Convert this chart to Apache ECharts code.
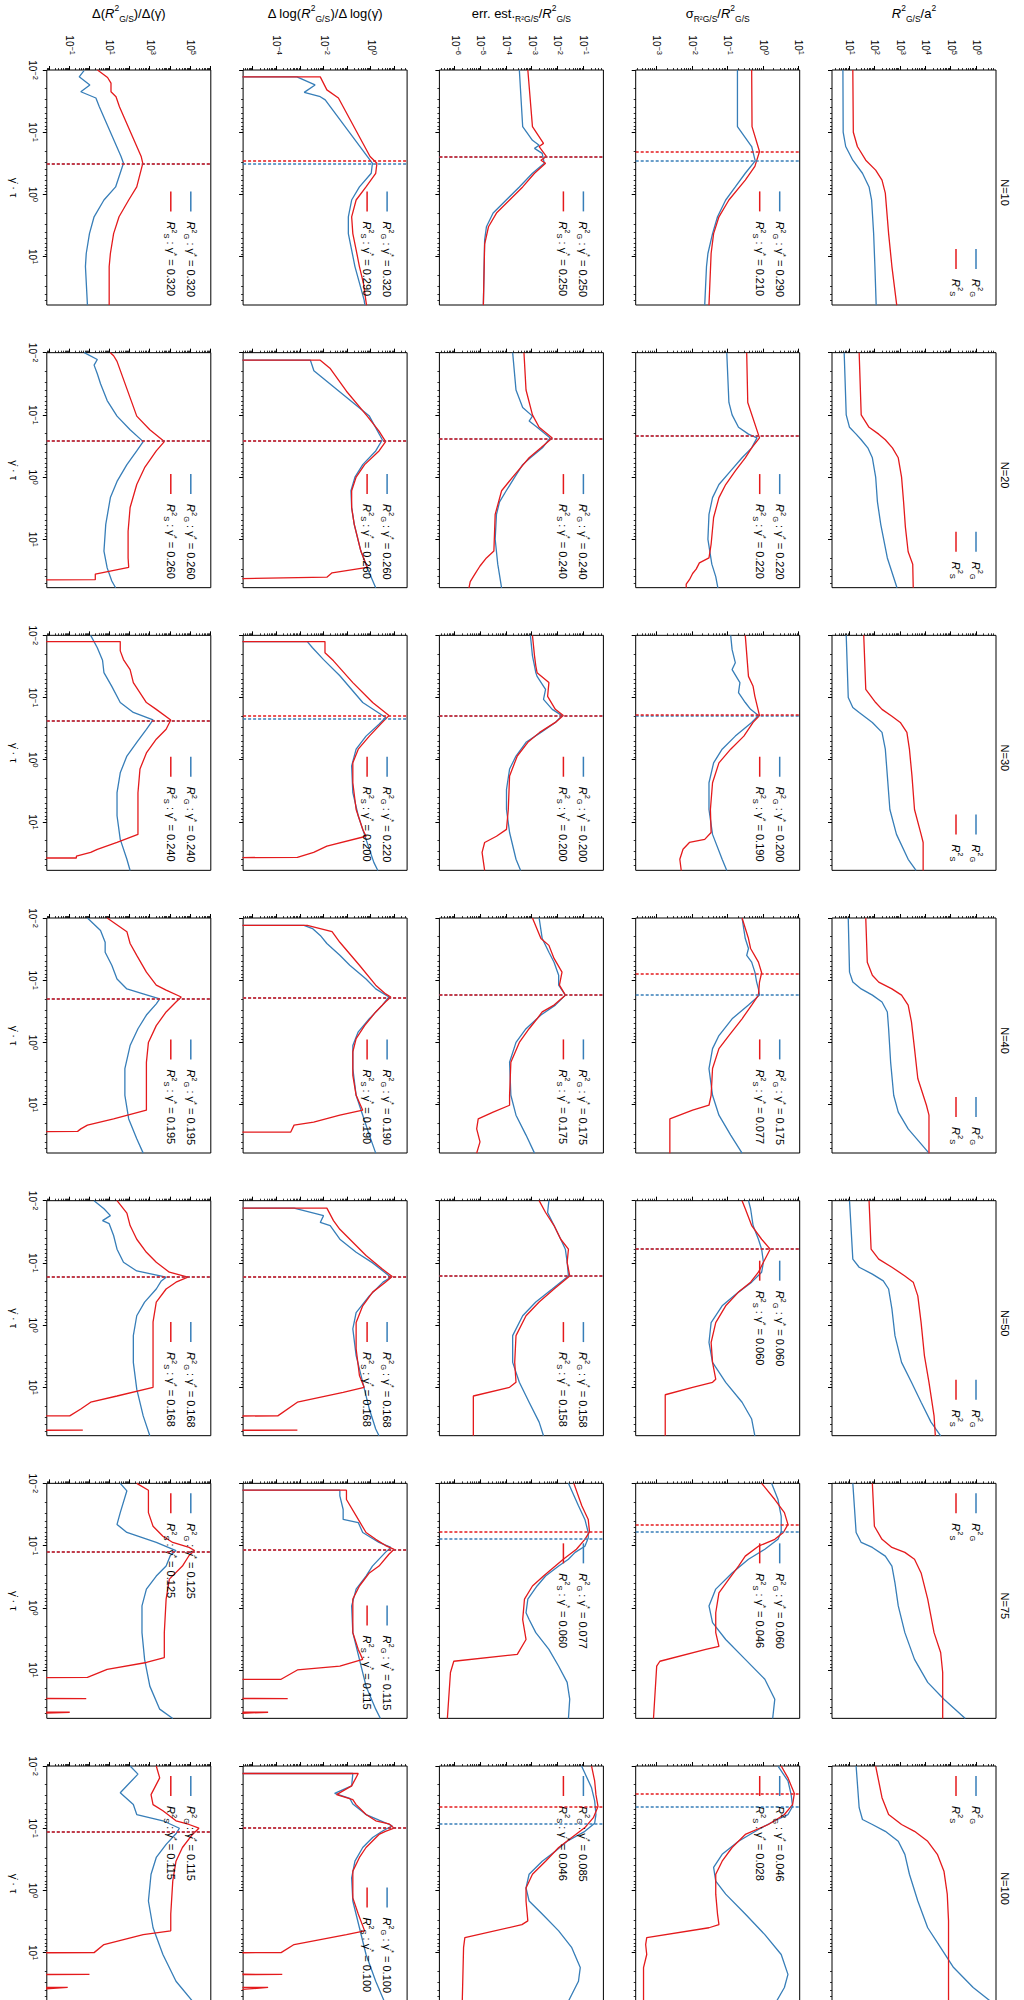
<!DOCTYPE html>
<html>
<head>
<meta charset="utf-8">
<script src="https://cdn.jsdelivr.net/npm/echarts/dist/echarts.min.js"></script>
<style>
html,body{margin:0;padding:0;width:1024px;height:2000px;overflow:hidden;background:#fff;}
#chart{position:absolute;left:0;top:0;width:2000px;height:1024px;transform-origin:0 0;transform:translate(1024px,0) rotate(90deg);}
</style>
</head>
<body>
<div id="chart"></div>
<script>
// ---------------- DATA (all values as log10) ----------------
// Each curve: [log10(gamma_dot*tau), log10(value)]; -12 = below the axis (dropped to zero)
const nValues = [10, 20, 30, 40, 50, 75, 100];
const xTickExps = [-2, -1, 0, 1];
const rowTickLabelExps = [[1,2,3,4,5,6], [-3,-2,-1,0,1], [-6,-5,-4,-3,-2,-1], [-4,-2,0], [-1,1,3,5]];
const rowMinLog = [0.31, -3.59, -6.61, -5.43, -2.14];
const rowMaxLog = [6.77, 1.02, -0.23, 1.52, 6.01];
const xMinLog = -2, xMaxLog = 1.778;

// gamma* per N for rows 2..5 (sigma, err est, dlog, diff)
const gammaStarG = [[0.290,0.250,0.320,0.320],[0.220,0.240,0.260,0.260],[0.200,0.200,0.220,0.240],[0.175,0.175,0.190,0.195],[0.060,0.158,0.168,0.168],[0.060,0.077,0.115,0.125],[0.046,0.085,0.100,0.115]];
const gammaStarS = [[0.210,0.250,0.290,0.320],[0.220,0.240,0.260,0.260],[0.190,0.200,0.200,0.240],[0.077,0.175,0.190,0.195],[0.060,0.158,0.168,0.168],[0.046,0.060,0.115,0.125],[0.028,0.046,0.100,0.115]];

// ---- N = 10 ----
const n10_r1_G = [[-2,0.74],[-1,0.75],[-0.77,0.85],[-0.55,1.13],[-0.34,1.51],[-0.12,1.77],[0.09,1.87],[0.63,1.95],[1.16,2.0],[1.78,2.05]];
const n10_r1_S = [[-2,1.13],[-1,1.15],[-0.77,1.31],[-0.55,1.64],[-0.39,2.03],[-0.23,2.28],[-0.02,2.41],[0.63,2.54],[1.16,2.67],[1.78,2.86]];
const n10_r2_G = [[-2,-0.73],[-1.09,-0.73],[-0.77,-0.33],[-0.54,-0.23],[-0.34,-0.51],[-0.12,-0.79],[0.09,-1.06],[0.36,-1.29],[0.63,-1.43],[0.95,-1.56],[1.16,-1.6],[1.78,-1.65]];
const n10_r2_S = [[-2,-0.33],[-1.09,-0.32],[-0.69,-0.11],[-0.45,-0.24],[-0.23,-0.51],[0.09,-0.97],[0.36,-1.25],[0.63,-1.4],[0.95,-1.47],[1.78,-1.53]];
const n10_r3_G = [[-2,-3.5],[-1.09,-3.37],[-0.87,-2.99],[-0.79,-2.73],[-0.74,-2.91],[-0.66,-2.61],[-0.5,-2.53],[-0.34,-2.99],[-0.12,-3.5],[0.09,-4.01],[0.3,-4.52],[0.52,-4.78],[0.73,-4.85],[1.78,-4.9]];
const n10_r3_S = [[-2,-3.17],[-1.09,-2.99],[-0.82,-2.56],[-0.77,-2.73],[-0.61,-2.45],[-0.55,-2.66],[-0.5,-2.48],[-0.34,-2.91],[-0.12,-3.37],[0.09,-3.88],[0.3,-4.39],[0.52,-4.7],[0.8,-4.85],[1.78,-4.9]];
const n10_r4_G = [[-1.89,-12],[-1.89,-3.15],[-1.76,-2.38],[-1.64,-2.84],[-1.57,-2.16],[-1.52,-1.95],[-0.55,-0.05],[-0.5,0.05],[-0.34,0.0],[-0.12,-0.5],[0.09,-0.83],[0.36,-0.97],[0.63,-0.97],[1.16,-0.69],[1.7,-0.3],[1.78,-0.27]];
const n10_r4_S = [[-1.89,-12],[-1.89,-2.16],[-1.68,-1.88],[-1.55,-1.39],[-0.61,-0.05],[-0.5,0.24],[-0.34,0.19],[-0.12,-0.22],[0.09,-0.64],[0.36,-0.83],[0.63,-0.78],[0.89,-0.64],[1.16,-0.5],[1.43,-0.33],[1.78,-0.2]];
const n10_r5_G = [[-1.99,-0.29],[-1.89,-0.53],[-1.76,0.0],[-1.65,-0.45],[-1.55,0.3],[-1.41,0.47],[-0.61,1.55],[-0.5,1.67],[-0.12,1.28],[0.09,0.7],[0.36,0.21],[0.63,-0.02],[0.95,-0.18],[1.16,-0.22],[1.78,-0.12]];
const n10_r5_S = [[-2,0.38],[-1.88,0.88],[-1.79,1.05],[-1.65,1.05],[-1.57,1.3],[-1.41,1.47],[-0.61,2.55],[-0.5,2.63],[-0.12,2.33],[0.09,1.93],[0.36,1.45],[0.63,1.18],[0.95,1.02],[1.16,0.96],[1.78,0.96]];

// ---- N = 20 ----
const n20_r1_G = [[-2,0.79],[-1,0.87],[-0.8,1.0],[-0.69,1.26],[-0.6,1.46],[-0.47,1.72],[-0.31,1.9],[0,2.03],[0.4,2.1],[0.76,2.23],[1.3,2.49],[1.78,2.87]];
const n20_r1_S = [[-2,1.38],[-1,1.46],[-0.8,1.77],[-0.69,2.15],[-0.6,2.41],[-0.47,2.69],[-0.31,2.92],[0,3.05],[0.4,3.13],[0.8,3.2],[1.2,3.31],[1.4,3.49],[1.78,3.51]];
const n20_r2_G = [[-2,-1.03],[-1.2,-0.97],[-1,-0.88],[-0.8,-0.7],[-0.69,-0.42],[-0.63,-0.18],[-0.47,-0.33],[-0.31,-0.6],[-0.1,-0.92],[0.12,-1.25],[0.33,-1.43],[0.6,-1.53],[1.0,-1.56],[1.4,-1.45],[1.6,-1.34],[1.78,-1.28]];
const n20_r2_S = [[-2,-0.47],[-1.2,-0.44],[-0.63,-0.11],[-0.47,-0.33],[-0.31,-0.51],[-0.1,-0.79],[0.12,-1.06],[0.33,-1.25],[0.65,-1.4],[1.08,-1.47],[1.3,-1.53],[1.38,-1.8],[1.48,-1.89],[1.55,-1.99],[1.65,-2.08],[1.72,-2.17],[1.78,-2.17]];
const n20_r3_G = [[-2,-3.76],[-1.4,-3.63],[-1.12,-3.37],[-0.98,-2.99],[-0.9,-3.12],[-0.8,-2.81],[-0.63,-2.3],[-0.47,-2.6],[-0.31,-3.07],[-0.2,-3.37],[0,-3.68],[0.22,-4.01],[0.4,-4.27],[0.6,-4.39],[1.0,-4.44],[1.4,-4.34],[1.78,-4.19]];
const n20_r3_S = [[-2,-3.32],[-1.4,-3.24],[-1.0,-2.99],[-0.8,-2.73],[-0.63,-2.22],[-0.47,-2.66],[-0.31,-3.12],[0,-3.76],[0.22,-4.19],[0.6,-4.44],[1.19,-4.49],[1.3,-4.78],[1.43,-5.03],[1.54,-5.2],[1.68,-5.41],[1.78,-5.46]];
const n20_r4_G = [[-1.88,-12],[-1.88,-2.58],[-1.79,-2.5],[-1.71,-2.43],[-0.98,-0.08],[-0.6,0.47],[-0.42,0.19],[-0.2,-0.36],[0,-0.69],[0.22,-0.86],[0.49,-0.83],[0.76,-0.72],[1.19,-0.44],[1.46,-0.17],[1.78,0.19]];
const n20_r4_S = [[-1.88,-12],[-1.88,-2.16],[-1.75,-1.75],[-1.38,-1.05],[-0.98,-0.17],[-0.74,0.33],[-0.57,0.61],[-0.42,0.33],[-0.2,-0.28],[0,-0.64],[0.22,-0.83],[0.49,-0.83],[0.76,-0.72],[1.19,-0.44],[1.45,-0.17],[1.54,-1.66],[1.61,-1.88],[1.67,-12],[1.78,-12]];
const n20_r5_G = [[-2,-0.28],[-1.89,0.37],[-1.8,0.21],[-1.66,0.37],[-1.5,0.53],[-1.23,0.86],[-0.98,1.35],[-0.76,2.0],[-0.57,2.65],[-0.42,2.33],[-0.2,1.84],[0.07,1.35],[0.33,1.02],[0.76,0.79],[1.19,0.7],[1.46,0.86],[1.67,1.09],[1.78,1.28]];
const n20_r5_S = [[-2,1.02],[-1.95,1.18],[-1.86,1.35],[-0.98,2.33],[-0.76,2.98],[-0.57,3.7],[-0.42,3.3],[-0.15,2.72],[0.12,2.33],[0.49,2.0],[0.87,1.9],[1.3,1.9],[1.45,1.93],[1.56,0.27],[1.65,0.27],[1.67,-12],[1.78,-12]];

// ---- N = 30 ----
const n30_r1_G = [[-2,0.87],[-1.0,0.95],[-0.84,1.13],[-0.76,1.38],[-0.68,1.64],[-0.6,1.9],[-0.44,2.28],[-0.17,2.41],[0.26,2.49],[0.8,2.59],[1.2,2.85],[1.6,3.31],[1.78,3.62]];
const n30_r1_S = [[-2,1.56],[-1.13,1.64],[-0.92,2.03],[-0.81,2.28],[-0.7,2.67],[-0.6,3.0],[-0.44,3.26],[-0.17,3.36],[0.26,3.46],[0.8,3.56],[1.2,3.82],[1.33,3.9],[1.78,3.9]];
const n30_r2_G = [[-2,-0.92],[-1.77,-0.88],[-1.56,-0.79],[-1.45,-0.88],[-1.24,-0.66],[-1.08,-0.7],[-0.92,-0.51],[-0.81,-0.36],[-0.71,-0.14],[-0.6,-0.33],[-0.38,-0.79],[-0.17,-1.16],[0.05,-1.4],[0.37,-1.53],[0.8,-1.53],[1.2,-1.43],[1.6,-1.16],[1.78,-1.03]];
const n30_r2_S = [[-2,-0.51],[-1.34,-0.42],[-1.18,-0.29],[-1.02,-0.24],[-0.71,-0.11],[-0.6,-0.29],[-0.38,-0.55],[-0.17,-0.92],[0.05,-1.25],[0.37,-1.43],[0.8,-1.49],[1.17,-1.47],[1.28,-1.65],[1.33,-2.08],[1.44,-2.26],[1.6,-2.35],[1.78,-2.31]];
const n30_r3_G = [[-2,-3.07],[-1.67,-2.99],[-1.51,-2.91],[-1.4,-2.86],[-1.34,-2.81],[-1.13,-2.48],[-0.97,-2.56],[-0.81,-2.22],[-0.71,-1.84],[-0.6,-2.1],[-0.44,-2.66],[-0.28,-3.24],[-0.06,-3.63],[0.15,-3.88],[0.48,-4.0],[0.8,-4.0],[1.17,-3.88],[1.6,-3.63],[1.78,-3.45]];
const n30_r3_S = [[-2,-2.99],[-1.67,-2.91],[-1.51,-2.86],[-1.4,-2.81],[-1.24,-2.35],[-1.02,-2.4],[-0.81,-2.1],[-0.71,-1.79],[-0.6,-2.1],[-0.44,-2.71],[-0.28,-3.17],[-0.06,-3.58],[0.26,-3.88],[0.8,-3.93],[1.12,-4.0],[1.23,-4.39],[1.33,-4.85],[1.49,-4.95],[1.78,-4.85]];
const n30_r4_G = [[-1.9,-12],[-1.9,-2.71],[-1.8,-2.49],[-1.61,-2.02],[-1.35,-1.33],[-0.92,-0.36],[-0.68,0.61],[-0.57,0.33],[-0.38,-0.22],[-0.17,-0.64],[0.1,-0.83],[0.53,-0.78],[0.9,-0.55],[1.28,-0.22],[1.65,0.11],[1.78,0.28]];
const n30_r4_S = [[-1.9,-12],[-1.9,-1.96],[-1.72,-1.96],[-1.59,-1.6],[-1.24,-0.78],[-0.92,0.06],[-0.71,0.75],[-0.6,0.47],[-0.38,-0.08],[-0.17,-0.55],[0.05,-0.78],[0.37,-0.78],[0.8,-0.64],[1.12,-0.36],[1.23,-0.22],[1.39,-1.88],[1.49,-2.44],[1.57,-3.13],[1.58,-12],[1.78,-12]];
const n30_r5_G = [[-2,0.04],[-1.8,0.37],[-1.6,0.63],[-1.4,0.7],[-1.18,1.09],[-0.92,1.51],[-0.76,2.16],[-0.64,3.14],[-0.49,2.81],[-0.28,2.33],[-0.06,1.84],[0.21,1.51],[0.53,1.35],[0.9,1.35],[1.28,1.51],[1.6,1.84],[1.78,2.0]];
const n30_r5_S = [[-1.9,-12],[-1.9,1.51],[-1.75,1.51],[-1.61,1.67],[-1.45,2.0],[-1.24,2.16],[-0.92,2.81],[-0.81,3.3],[-0.64,4.02],[-0.49,3.79],[-0.33,3.3],[-0.11,2.81],[0.15,2.49],[0.53,2.39],[1.2,2.39],[1.33,1.35],[1.44,0.37],[1.49,0.04],[1.55,-0.67],[1.58,-0.67],[1.58,-12],[1.78,-12]];

// ---- N = 40 ----
const n40_r1_G = [[-2,0.95],[-1.13,1.0],[-0.97,1.13],[-0.86,1.46],[-0.76,1.9],[-0.65,2.28],[-0.49,2.49],[-0.22,2.54],[0.32,2.62],[0.85,2.74],[1.12,2.92],[1.39,3.31],[1.78,4.13]];
const n40_r1_S = [[-2,1.64],[-1.29,1.7],[-1.08,1.9],[-0.97,2.15],[-0.86,2.67],[-0.76,3.05],[-0.6,3.31],[-0.33,3.44],[0.1,3.56],[0.58,3.69],[1.01,4.03],[1.17,4.13],[1.78,4.13]];
const n40_r2_G = [[-2,-0.6],[-1.67,-0.51],[-1.51,-0.42],[-1.4,-0.47],[-1.29,-0.33],[-1.13,-0.24],[-0.97,-0.19],[-0.86,-0.14],[-0.76,-0.11],[-0.6,-0.42],[-0.38,-0.88],[-0.11,-1.25],[0.1,-1.43],[0.42,-1.53],[0.85,-1.43],[1.17,-1.25],[1.49,-0.92],[1.78,-0.6]];
const n40_r2_S = [[-2,-0.6],[-1.67,-0.42],[-1.51,-0.36],[-1.29,-0.14],[-1.12,-0.05],[-0.97,-0.11],[-0.76,-0.14],[-0.6,-0.33],[-0.38,-0.6],[-0.11,-0.97],[0.1,-1.25],[0.42,-1.43],[0.85,-1.47],[1.01,-1.53],[1.09,-1.99],[1.23,-2.63],[1.78,-2.63]];
const n40_r3_G = [[-2,-2.73],[-1.67,-2.61],[-1.45,-2.35],[-1.29,-2.15],[-1.08,-1.97],[-0.92,-1.97],[-0.76,-1.71],[-0.6,-2.1],[-0.44,-2.66],[-0.22,-3.24],[0,-3.63],[0.32,-3.88],[0.85,-3.83],[1.17,-3.63],[1.49,-3.24],[1.78,-2.91]];
const n40_r3_S = [[-2,-2.99],[-1.67,-2.66],[-1.56,-2.35],[-1.35,-2.15],[-1.13,-1.84],[-0.92,-1.94],[-0.76,-1.71],[-0.6,-2.15],[-0.49,-2.61],[-0.38,-2.81],[-0.22,-3.12],[0,-3.5],[0.32,-3.83],[0.85,-3.88],[1.01,-3.88],[1.12,-4.52],[1.23,-5.1],[1.39,-5.16],[1.6,-5.03],[1.78,-5.16]];
const n40_r4_G = [[-1.88,-12],[-1.88,-2.85],[-1.83,-2.49],[-1.72,-2.16],[-1.59,-1.88],[-1.4,-1.33],[-1.24,-0.91],[-1.02,-0.22],[-0.86,0.19],[-0.73,0.75],[-0.6,0.47],[-0.38,-0.08],[-0.17,-0.55],[0.05,-0.78],[0.42,-0.78],[0.85,-0.64],[1.17,-0.36],[1.49,-0.08],[1.78,0.19]];
const n40_r4_S = [[-1.88,-12],[-1.88,-2.71],[-1.78,-1.66],[-1.61,-1.33],[-1.24,-0.5],[-0.92,0.19],[-0.78,0.61],[-0.73,0.83],[-0.65,0.6],[-0.49,0.19],[-0.27,-0.28],[-0.06,-0.64],[0.15,-0.78],[0.53,-0.78],[0.85,-0.64],[1.09,-0.36],[1.17,-1.33],[1.28,-2.44],[1.33,-3.27],[1.44,-3.41],[1.45,-12],[1.78,-12]];
const n40_r5_G = [[-2,-0.12],[-1.8,0.53],[-1.61,0.76],[-1.45,0.76],[-1.24,1.09],[-1.02,1.35],[-0.86,1.84],[-0.78,2.65],[-0.7,3.47],[-0.62,3.3],[-0.44,2.81],[-0.22,2.39],[0.05,2.0],[0.42,1.74],[0.85,1.74],[1.23,1.93],[1.55,2.33],[1.78,2.65]];
const n40_r5_S = [[-2,0.86],[-1.78,1.84],[-1.59,2.0],[-1.4,2.33],[-1.13,2.81],[-0.92,3.3],[-0.84,3.79],[-0.73,4.54],[-0.65,4.28],[-0.49,3.79],[-0.27,3.3],[0.0,2.91],[0.32,2.81],[0.85,2.81],[1.09,2.81],[1.23,1.18],[1.33,-0.12],[1.39,-0.45],[1.43,-0.61],[1.45,-12],[1.78,-12]];

// ---- N = 50 ----
const n50_r1_G = [[-2,1.0],[-1.06,1.13],[-0.93,1.38],[-0.82,1.9],[-0.71,2.33],[-0.58,2.54],[-0.26,2.67],[0.17,2.79],[0.6,3.05],[0.92,3.44],[1.24,3.82],[1.56,4.21],[1.78,4.59]];
const n50_r1_S = [[-2,1.77],[-1.22,1.85],[-1.06,2.15],[-0.93,2.67],[-0.79,3.18],[-0.69,3.51],[-0.47,3.69],[-0.04,3.82],[0.49,3.95],[0.92,4.13],[1.46,4.33],[1.78,4.38]];
const n50_r2_G = [[-2,-0.42],[-1.87,-0.36],[-1.6,-0.29],[-1.38,-0.14],[-1.22,-0.05],[-1.01,0.0],[-0.85,-0.05],[-0.69,-0.33],[-0.53,-0.7],[-0.31,-1.16],[-0.04,-1.47],[0.28,-1.53],[0.6,-1.43],[0.92,-1.06],[1.24,-0.6],[1.51,-0.33],[1.78,-0.24]];
const n50_r2_S = [[-2,-0.6],[-1.87,-0.51],[-1.6,-0.33],[-1.38,-0.05],[-1.22,0.19],[-1.01,0.0],[-0.85,-0.14],[-0.69,-0.36],[-0.53,-0.7],[-0.31,-1.06],[-0.04,-1.34],[0.28,-1.47],[0.6,-1.43],[0.87,-1.34],[0.92,-1.43],[1.0,-1.99],[1.12,-2.76],[1.78,-2.76]];
const n50_r3_G = [[-2,-2.35],[-1.81,-2.4],[-1.6,-2.15],[-1.38,-1.89],[-1.22,-1.71],[-1.01,-1.64],[-0.79,-1.59],[-0.58,-2.22],[-0.37,-2.86],[-0.15,-3.37],[0.17,-3.76],[0.6,-3.76],[0.92,-3.5],[1.24,-3.12],[1.56,-2.73],[1.78,-2.56]];
const n50_r3_S = [[-2,-2.73],[-1.81,-2.48],[-1.6,-2.15],[-1.38,-1.89],[-1.22,-1.59],[-1.01,-1.64],[-0.79,-1.54],[-0.58,-2.15],[-0.37,-2.73],[-0.15,-3.24],[0.17,-3.63],[0.6,-3.68],[0.92,-3.63],[1.0,-3.88],[1.14,-5.29],[1.78,-5.29]];
const n50_r4_G = [[-1.88,-12],[-1.88,-3.27],[-1.76,-2.02],[-1.65,-2.16],[-1.6,-1.74],[-1.38,-1.33],[-1.17,-0.64],[-1.0,0.06],[-0.77,0.83],[-0.69,0.5],[-0.47,-0.08],[-0.2,-0.64],[0.06,-0.78],[0.49,-0.64],[0.92,-0.36],[1.35,-0.08],[1.67,0.19],[1.78,0.33]];
const n50_r4_S = [[-1.88,-12],[-1.88,-1.88],[-1.68,-1.6],[-1.54,-1.33],[-1.12,-0.22],[-0.9,0.47],[-0.78,0.89],[-0.69,0.6],[-0.53,0.06],[-0.31,-0.36],[-0.04,-0.64],[0.38,-0.64],[0.81,-0.5],[1.0,-0.3],[1.08,-1.19],[1.24,-3.13],[1.46,-3.96],[1.47,-12],[1.68,-12],[1.69,-3.13],[1.7,-12],[1.78,-12]];
const n50_r5_G = [[-2,0.21],[-1.87,0.7],[-1.76,1.02],[-1.68,0.63],[-1.63,0.96],[-1.44,1.18],[-1.22,1.35],[-1.01,1.67],[-0.87,2.33],[-0.77,3.79],[-0.71,3.55],[-0.58,3.3],[-0.37,2.72],[-0.15,2.33],[0.17,2.16],[0.6,2.16],[1.03,2.33],[1.46,2.65],[1.78,2.98]];
const n50_r5_S = [[-2,1.35],[-1.8,1.84],[-1.6,2.0],[-1.38,2.33],[-1.17,2.81],[-1.01,3.3],[-0.85,3.95],[-0.77,4.87],[-0.69,4.28],[-0.58,3.79],[-0.37,3.3],[-0.05,3.14],[0.38,3.14],[1.0,3.14],[1.14,1.35],[1.24,0.04],[1.35,-0.45],[1.46,-1.0],[1.47,-12],[1.68,-12],[1.69,-0.35],[1.7,-12],[1.78,-12]];

// ---- N = 75 ----
const n75_r1_G = [[-2,1.13],[-1.21,1.26],[-1.05,1.46],[-0.97,1.9],[-0.83,2.41],[-0.67,2.67],[-0.4,2.79],[-0.03,2.92],[0.4,3.18],[0.83,3.56],[1.2,4.08],[1.47,4.72],[1.78,5.56]];
const n75_r1_S = [[-2,1.9],[-1.31,1.98],[-1.1,2.28],[-0.97,2.67],[-0.89,3.18],[-0.78,3.56],[-0.56,3.82],[-0.14,4.08],[0.4,4.33],[0.72,4.59],[1.04,4.67],[1.78,4.67]];
const n75_r2_G = [[-2,0.23],[-1.74,0.41],[-1.47,0.5],[-1.22,0.5],[-1.1,0.41],[-0.94,0.04],[-0.78,-0.42],[-0.56,-0.88],[-0.3,-1.34],[-0.03,-1.53],[0.24,-1.43],[0.51,-1.06],[0.83,-0.51],[1.15,0.04],[1.47,0.32],[1.78,0.26]];
const n75_r2_S = [[-2,-0.05],[-1.74,0.32],[-1.53,0.59],[-1.34,0.69],[-1.21,0.56],[-1.1,0.32],[-0.99,-0.14],[-0.83,-0.51],[-0.67,-0.7],[-0.46,-0.97],[-0.24,-1.25],[0.08,-1.34],[0.4,-1.34],[0.62,-1.25],[0.67,-1.62],[0.86,-2.91],[0.94,-3.0],[1.78,-3.09]];
const n75_r3_G = [[-2,-1.59],[-1.64,-1.2],[-1.42,-0.95],[-1.21,-0.82],[-1.12,-0.82],[-0.99,-0.95],[-0.89,-1.33],[-0.78,-1.59],[-0.67,-1.97],[-0.51,-2.48],[-0.35,-2.81],[-0.14,-3.17],[0.08,-3.24],[0.19,-3.12],[0.4,-2.86],[0.67,-2.35],[0.94,-1.97],[1.2,-1.64],[1.47,-1.54],[1.78,-1.59]];
const n75_r3_S = [[-2,-1.38],[-1.64,-1.07],[-1.42,-0.82],[-1.22,-0.77],[-1.1,-0.95],[-0.94,-1.28],[-0.78,-1.79],[-0.67,-2.1],[-0.51,-2.56],[-0.35,-2.99],[-0.14,-3.3],[0.19,-3.37],[0.51,-3.24],[0.75,-3.58],[0.86,-6.05],[1.04,-6.18],[1.78,-6.3]];
const n75_r4_G = [[-1.89,-12],[-1.89,-1.33],[-1.8,-1.33],[-1.58,-1.19],[-1.42,-1.19],[-1.37,-0.55],[-1.21,-0.36],[-1.05,0.33],[-0.97,0.83],[-0.89,0.6],[-0.67,0.05],[-0.51,-0.22],[-0.3,-0.64],[-0.03,-0.83],[0.4,-0.78],[0.83,-0.5],[1.26,-0.22],[1.63,0.19],[1.78,0.39]];
const n75_r4_S = [[-1.89,-12],[-1.89,-1.05],[-1.74,-1.05],[-1.42,-0.55],[-1.21,-0.22],[-1.1,0.19],[-1.0,0.61],[-0.94,0.97],[-0.86,0.75],[-0.67,0.33],[-0.56,-0.08],[-0.35,-0.5],[-0.14,-0.78],[0.4,-0.78],[0.67,-0.55],[0.83,-0.36],[0.94,-1.33],[1.0,-3.13],[1.15,-3.82],[1.16,-12],[1.45,-12],[1.46,-3.54],[1.47,-12],[1.67,-12],[1.68,-4.37],[1.79,-12]];
const n75_r5_G = [[-2,1.51],[-1.88,1.84],[-1.53,1.51],[-1.34,1.35],[-1.21,1.84],[-1.05,3.3],[-0.92,4.28],[-0.84,4.0],[-0.67,3.79],[-0.51,3.3],[-0.3,2.81],[-0.03,2.59],[0.4,2.59],[0.83,2.72],[1.26,2.98],[1.63,3.47],[1.78,4.12]];
const n75_r5_S = [[-2,2.33],[-1.89,2.91],[-1.53,2.91],[-1.31,3.14],[-1.15,3.63],[-1.05,4.12],[-0.97,4.93],[-0.92,5.2],[-0.84,4.93],[-0.67,4.6],[-0.46,3.95],[-0.14,3.79],[0.4,3.7],[0.8,3.7],[0.88,2.81],[0.99,0.86],[1.12,-0.12],[1.13,-12],[1.45,-12],[1.46,-0.18],[1.47,-12],[1.67,-12],[1.68,-1.0],[1.79,-12]];

// ---- N = 100 ----
const n100_r1_G = [[-2,1.26],[-1.33,1.38],[-1.14,1.51],[-1.06,1.9],[-0.95,2.41],[-0.79,2.92],[-0.58,3.18],[-0.26,3.36],[0.17,3.69],[0.6,4.08],[0.92,4.59],[1.24,5.1],[1.56,5.87],[1.78,6.55]];
const n100_r1_S = [[-2,2.03],[-1.49,2.28],[-1.22,2.54],[-1.06,3.05],[-0.95,3.56],[-0.79,4.08],[-0.58,4.46],[-0.31,4.72],[0.06,4.85],[0.49,4.9],[1.78,4.9]];
const n100_r2_G = [[-2,0.41],[-1.76,0.69],[-1.54,0.78],[-1.35,0.82],[-1.22,0.69],[-1.12,0.32],[-0.98,-0.14],[-0.79,-0.7],[-0.58,-1.16],[-0.37,-1.4],[-0.15,-1.34],[0.06,-1.06],[0.38,-0.51],[0.71,0.04],[1.03,0.5],[1.35,0.69],[1.56,0.59],[1.78,0.37]];
const n100_r2_S = [[-2,0.5],[-1.81,0.69],[-1.56,0.87],[-1.38,0.82],[-1.22,0.59],[-1.06,0.14],[-0.9,-0.51],[-0.69,-0.88],[-0.47,-1.16],[-0.26,-1.34],[0.06,-1.34],[0.38,-1.29],[0.55,-1.25],[0.6,-1.53],[0.76,-3.28],[0.87,-3.31],[1.03,-3.28],[1.24,-3.37],[1.78,-3.37]];
const n100_r3_G = [[-2,-1.08],[-1.65,-0.69],[-1.44,-0.57],[-1.22,-0.52],[-1.08,-0.57],[-0.95,-0.95],[-0.79,-1.64],[-0.63,-2.1],[-0.47,-2.61],[-0.26,-3.12],[-0.04,-3.24],[0.17,-3.12],[0.38,-2.61],[0.65,-1.97],[0.92,-1.46],[1.24,-1.13],[1.46,-1.2],[1.78,-1.59]];
const n100_r3_S = [[-2,-0.69],[-1.76,-0.57],[-1.54,-0.52],[-1.35,-0.44],[-1.17,-0.62],[-1.01,-0.95],[-0.85,-1.46],[-0.69,-1.97],[-0.47,-2.48],[-0.26,-2.99],[-0.04,-3.24],[0.17,-3.24],[0.49,-3.17],[0.55,-3.4],[0.76,-5.62],[0.92,-5.67],[1.78,-5.72]];
const n100_r4_G = [[-1.88,-12],[-1.88,-0.78],[-1.68,-0.83],[-1.56,-1.55],[-1.48,-0.91],[-1.39,-0.78],[-1.22,-0.22],[-1.13,0.33],[-1.04,0.89],[-0.96,0.5],[-0.85,0.06],[-0.69,-0.36],[-0.47,-0.69],[-0.2,-0.83],[0.17,-0.78],[0.6,-0.5],[1.03,-0.22],[1.46,0.19],[1.78,0.55]];
const n100_r4_S = [[-1.88,-12],[-1.88,-0.55],[-1.68,-0.83],[-1.54,-1.47],[-1.46,-0.78],[-1.38,-0.64],[-1.22,-0.22],[-1.12,0.19],[-1.07,0.75],[-1.0,0.97],[-0.95,0.6],[-0.9,0.33],[-0.69,-0.22],[-0.53,-0.5],[-0.31,-0.78],[0.12,-0.78],[0.38,-0.55],[0.65,-0.28],[0.71,-1.05],[0.87,-3.27],[1.0,-3.82],[1.01,-12],[1.34,-12],[1.35,-3.77],[1.36,-12],[1.55,-12],[1.56,-4.37],[1.77,-12]];
const n100_r5_G = [[-2,2.0],[-1.87,2.39],[-1.57,1.51],[-1.38,2.16],[-1.22,2.33],[-1.12,3.63],[-1.0,4.45],[-0.92,4.3],[-0.74,3.79],[-0.53,3.3],[-0.26,3.04],[0.17,2.91],[0.6,3.14],[1.03,3.63],[1.46,4.28],[1.78,5.1]];
const n100_r5_S = [[-2,3.3],[-1.81,3.47],[-1.54,3.04],[-1.38,3.14],[-1.28,3.63],[-1.12,4.28],[-1.06,4.93],[-1.0,5.42],[-0.9,5.1],[-0.69,4.6],[-0.47,4.28],[-0.15,4.12],[0.38,4.02],[0.65,4.02],[0.71,2.65],[0.87,0.7],[1.0,0.21],[1.01,-12],[1.34,-12],[1.35,-0.02],[1.36,-12],[1.55,-12],[1.56,-1.1],[1.77,-12]];

const curvesG = [
  [n10_r1_G, n10_r2_G, n10_r3_G, n10_r4_G, n10_r5_G],
  [n20_r1_G, n20_r2_G, n20_r3_G, n20_r4_G, n20_r5_G],
  [n30_r1_G, n30_r2_G, n30_r3_G, n30_r4_G, n30_r5_G],
  [n40_r1_G, n40_r2_G, n40_r3_G, n40_r4_G, n40_r5_G],
  [n50_r1_G, n50_r2_G, n50_r3_G, n50_r4_G, n50_r5_G],
  [n75_r1_G, n75_r2_G, n75_r3_G, n75_r4_G, n75_r5_G],
  [n100_r1_G, n100_r2_G, n100_r3_G, n100_r4_G, n100_r5_G]
];
const curvesS = [
  [n10_r1_S, n10_r2_S, n10_r3_S, n10_r4_S, n10_r5_S],
  [n20_r1_S, n20_r2_S, n20_r3_S, n20_r4_S, n20_r5_S],
  [n30_r1_S, n30_r2_S, n30_r3_S, n30_r4_S, n30_r5_S],
  [n40_r1_S, n40_r2_S, n40_r3_S, n40_r4_S, n40_r5_S],
  [n50_r1_S, n50_r2_S, n50_r3_S, n50_r4_S, n50_r5_S],
  [n75_r1_S, n75_r2_S, n75_r3_S, n75_r4_S, n75_r5_S],
  [n100_r1_S, n100_r2_S, n100_r3_S, n100_r4_S, n100_r5_S]
];

// ---------------- LAYOUT / STYLE ----------------
const FF = '"Liberation Sans", Arial, Helvetica, sans-serif';
const BLUE = '#377eb8', RED = '#e41a1c';
const colLeft = c => 70 + 282.67 * c;
const rowTop = r => 28 + 196.3 * r;
const PW = 235, PH = 164, CW = 2000;
const legendPlace = {50: ['right','mid','right','right','right'], 75: ['left','mid','mid','right','left'], 100: ['left','left','left','right','left']};

const supTxt = e => (e < 0 ? '\u2212' + (-e) : '' + e);
function majorVals(min, max) { const o = []; for (let n = Math.ceil(min); n <= Math.floor(max); n++) o.push(n); return o; }
function minorVals(min, max) {
  const o = [];
  for (let n = Math.floor(min); n <= Math.ceil(max); n++) for (let k = 2; k <= 9; k++) {
    const v = n + Math.log10(k); if (v > min + 1e-6 && v < max - 1e-6) o.push(+v.toFixed(5));
  }
  return o;
}
const tickRich = { s: { fontSize: 7.5, fontFamily: FF, color: '#000', verticalAlign: 'top', lineHeight: 8 } };
const nameRich = {
  t: { fontSize: 13, fontFamily: FF, color: '#000', lineHeight: 20 },
  it: { fontSize: 13, fontFamily: FF, color: '#000', fontStyle: 'italic', lineHeight: 20 },
  sup: { fontSize: 8.5, fontFamily: FF, color: '#000', verticalAlign: 'top', lineHeight: 9 },
  sub: { fontSize: 8.5, fontFamily: FF, color: '#000', verticalAlign: 'bottom', lineHeight: 9 }
};
const rowNames = [
  '{it|R}{sup|2}{sub|G/S}{t|/a}{sup|2}',
  '{t|\u03C3}{sub|R\u00B2G/S}{t|/}{it|R}{sup|2}{sub|G/S}',
  '{t|err. est.}{sub|R\u00B2G/S}{t|/}{it|R}{sup|2}{sub|G/S}',
  '{t|\u0394 log(}{it|R}{sup|2}{sub|G/S}{t|)/\u0394 log(\u03B3\u0307)}',
  '{t|\u0394(}{it|R}{sup|2}{sub|G/S}{t|)/\u0394(\u03B3\u0307)}'
];
const legRich = {
  it: { fontSize: 11, fontFamily: FF, color: '#000', fontStyle: 'italic', lineHeight: 16, padding: [0,0,0,5] },
  t: { fontSize: 11, fontFamily: FF, color: '#000', lineHeight: 16 },
  sup: { fontSize: 7.5, fontFamily: FF, color: '#000', verticalAlign: 'top', lineHeight: 8 },
  sub: { fontSize: 7.5, fontFamily: FF, color: '#000', verticalAlign: 'bottom', lineHeight: 8 }
};

const grids = [], xAxes = [], yAxes = [], series = [], legends = [], titles = [];
const legendText = {};

function makeSeries(name, pts, color, ax, gs) {
  const s = {
    type: 'line', name, xAxisIndex: ax, yAxisIndex: ax, data: pts.map(p => [p[0], p[1]]),
    symbol: 'none', showSymbol: false, clip: true, silent: true, animation: false,
    lineStyle: { color, width: 1.3 }, itemStyle: { color }, emphasis: { disabled: true }
  };
  if (gs != null) {
    s.markLine = {
      silent: true, animation: false, symbol: ['none', 'none'], label: { show: false },
      lineStyle: { color, type: [3, 2], width: 2, opacity: 0.75 }, emphasis: { disabled: true },
      data: [{ xAxis: Math.log10(gs) }]
    };
  }
  return s;
}

for (let c = 0; c < nValues.length; c++) {
  const N = nValues[c];
  titles.push({ text: 'N=' + N, left: colLeft(c) + PW / 2, top: 9, textAlign: 'center',
    textStyle: { fontSize: 11, fontWeight: 'normal', color: '#000', fontFamily: FF } });
  for (let r = 0; r < 5; r++) {
    const i = grids.length;
    const left = colLeft(c), top = rowTop(r);
    grids.push({ left, top, width: PW, height: PH, show: true, borderColor: '#000', borderWidth: 1,
      backgroundColor: 'transparent', containLabel: false, outerBoundsMode: 'none' });
    const bottomRow = r === 4;
    xAxes.push({
      type: 'value', gridIndex: i, min: xMinLog, max: xMaxLog, position: 'bottom',
      axisLine: { show: false, onZero: false }, splitLine: { show: false },
      axisTick: { show: true, inside: false, length: 4, customValues: majorVals(xMinLog, xMaxLog), lineStyle: { color: '#000', width: 1 } },
      axisLabel: { show: bottomRow, customValues: xTickExps, margin: 7, fontSize: 10, fontFamily: FF, color: '#000',
        lineHeight: 14, formatter: v => '10{s|' + supTxt(Math.round(v)) + '}', rich: tickRich },
      name: bottomRow ? '\u03B3\u0307 \u00B7 \u03C4' : '', nameLocation: 'middle', nameGap: 27,
      nameTextStyle: { fontSize: 11, fontFamily: FF, color: '#000' }
    });
    xAxes.push({
      type: 'value', gridIndex: i, min: xMinLog, max: xMaxLog, position: 'bottom',
      axisLine: { show: false, onZero: false }, splitLine: { show: false }, axisLabel: { show: false },
      axisTick: { show: true, inside: false, length: 2, customValues: minorVals(xMinLog, xMaxLog), lineStyle: { color: '#000', width: 0.8 } }
    });
    const ymin = rowMinLog[r], ymax = rowMaxLog[r];
    yAxes.push({
      type: 'value', gridIndex: i, min: ymin, max: ymax, position: 'left',
      axisLine: { show: false, onZero: false }, splitLine: { show: false },
      axisTick: { show: true, inside: false, length: 4, customValues: majorVals(ymin, ymax), lineStyle: { color: '#000', width: 1 } },
      axisLabel: { show: c === 0, customValues: rowTickLabelExps[r], margin: 15, fontSize: 10, fontFamily: FF, color: '#000',
        lineHeight: 14, formatter: v => '10{s|' + supTxt(Math.round(v)) + '}', rich: tickRich },
      name: c === 0 ? rowNames[r] : '', nameLocation: 'middle', nameRotate: 90, nameGap: 47,
      nameTextStyle: { rich: nameRich, fontSize: 13, fontFamily: FF, color: '#000' }
    });
    yAxes.push({
      type: 'value', gridIndex: i, min: ymin, max: ymax, position: 'left',
      axisLine: { show: false, onZero: false }, splitLine: { show: false }, axisLabel: { show: false },
      axisTick: { show: true, inside: false, length: 2, customValues: minorVals(ymin, ymax), lineStyle: { color: '#000', width: 0.8 } }
    });
    const gName = 'N' + N + ' row' + (r + 1) + ' G', sName = 'N' + N + ' row' + (r + 1) + ' S';
    const gsG = r > 0 ? gammaStarG[c][r - 1] : null, gsS = r > 0 ? gammaStarS[c][r - 1] : null;
    series.push(makeSeries(gName, curvesG[c][r], BLUE, 2 * i, gsG));
    series.push(makeSeries(sName, curvesS[c][r], RED, 2 * i, gsS));
    if (r === 0) {
      legendText[gName] = '{it|R}{sup|2}{sub|G}';
      legendText[sName] = '{it|R}{sup|2}{sub|S}';
    } else {
      legendText[gName] = '{it|R}{sup|2}{sub|G}{t| : \u03B3\u0307}{sup|*}{t| = ' + gsG.toFixed(3) + '}';
      legendText[sName] = '{it|R}{sup|2}{sub|S}{t| : \u03B3\u0307}{sup|*}{t| = ' + gsS.toFixed(3) + '}';
    }
    const place = (legendPlace[N] || [])[r] || 'right';
    const leg = {
      data: [gName, sName], orient: 'vertical', top: top + 12, icon: 'rect', itemWidth: 20, itemHeight: 1.5,
      itemGap: 4, padding: 0, selectedMode: false, formatter: name => legendText[name],
      textStyle: { fontSize: 11, fontFamily: FF, color: '#000', lineHeight: 16, rich: legRich }
    };
    if (place === 'left') leg.left = left + 10;
    else if (place === 'mid') leg.left = left + 60;
    else leg.right = CW - (left + PW) + 8;
    legends.push(leg);
  }
}

const chart = echarts.init(document.getElementById('chart'), null, { renderer: 'svg', width: 2000, height: 1024 });
chart.setOption({
  animation: false,
  backgroundColor: '#fff',
  title: titles,
  grid: grids,
  xAxis: xAxes,
  yAxis: yAxes,
  legend: legends,
  series: series
});
</script>
</body>
</html>
